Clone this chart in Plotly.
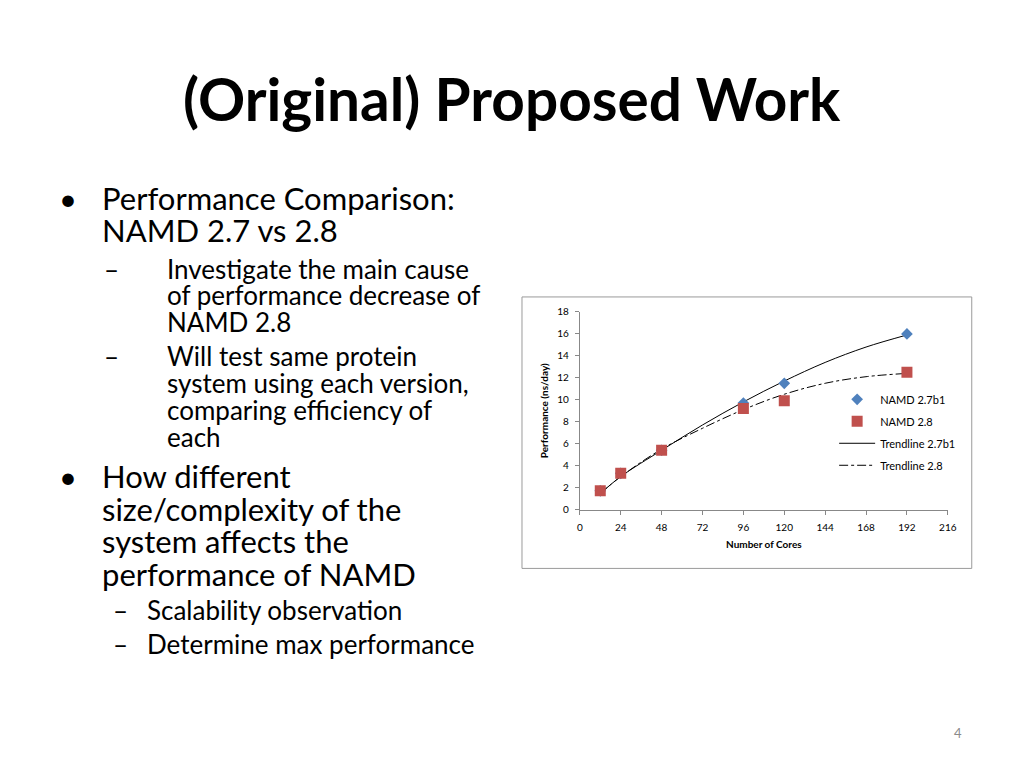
import plotly.graph_objects as go

cores = [12, 24, 48, 96, 120, 192]
namd_27 = [1.7, 3.3, 5.4, 9.7, 11.5, 16.0]
namd_28 = [1.7, 3.3, 5.4, 9.2, 9.9, 12.5]

# excel trendlines, read at regular points
trend_x = [12, 24, 48, 72, 96, 120, 144, 168, 192]
trend_27 = [1.45, 3.0, 5.4, 7.7, 9.8, 11.7, 13.4, 14.8, 15.9]
trend_28 = [1.45, 3.0, 5.5, 7.4, 9.1, 10.5, 11.5, 12.1, 12.4]

x_ticks = [0, 24, 48, 72, 96, 120, 144, 168, 192, 216]
y_ticks = [0, 2, 4, 6, 8, 10, 12, 14, 16, 18]

title = "<b>(Original) Proposed Work</b>"
font = "Lato"

W, H = 1024, 768

# the page comes out slightly shifted/shrunk in the screenshot, so map
# slide pixel positions back to figure positions
def px(x):
    return (x - 8.6) / 0.991 / W

def py(y):
    return 1 - (y - 13.5) / 0.985 / H

fig = go.Figure()
fig.add_trace(go.Scatter(x=trend_x, y=trend_27, mode="lines", name="Trendline 2.7b1",
                         legendrank=3, legendgroup="c",
                         line=dict(color="black", width=1, shape="spline")))
fig.add_trace(go.Scatter(x=trend_x, y=trend_28, mode="lines", name="Trendline 2.8",
                         legendrank=4, legendgroup="d",
                         line=dict(color="black", width=1, dash="dashdot", shape="spline")))
fig.add_trace(go.Scatter(x=cores, y=namd_27, mode="markers", name="NAMD 2.7b1",
                         legendrank=1, legendgroup="a",
                         marker=dict(symbol="diamond", size=9, color="#4F81BD")))
fig.add_trace(go.Scatter(x=cores, y=namd_28, mode="markers", name="NAMD 2.8",
                         legendrank=2, legendgroup="b",
                         marker=dict(symbol="square", size=11, color="#C0504D")))

fig.update_layout(
    width=W, height=H,
    margin=dict(l=0, r=0, t=0, b=0),
    paper_bgcolor="white", plot_bgcolor="white",
    font=dict(family=font, color="black"),
    legend=dict(x=px(834), y=py(384), xanchor="left", yanchor="top",
                font=dict(size=11, family=font), bgcolor="rgba(0,0,0,0)",
                tracegroupgap=3, itemwidth=36),
    xaxis=dict(domain=[px(579), px(948)], range=[0, 216], tickvals=x_ticks,
               showgrid=False, zeroline=False, showline=True, linecolor="#888",
               ticks="outside", ticklen=4, tickcolor="#888", ticklabelstandoff=4,
               tickfont=dict(size=10),
               title=dict(text="<b>Number of Cores</b>", font=dict(size=10), standoff=9)),
    yaxis=dict(domain=[py(509), py(311)], range=[0, 18], tickvals=y_ticks,
               showgrid=False, zeroline=False, showline=True, linecolor="#888",
               ticks="outside", ticklen=4, tickcolor="#888", ticklabelstandoff=4,
               tickfont=dict(size=10),
               title=dict(text="<b>Performance (ns/day)</b>", font=dict(size=10), standoff=6)),
)

# chart frame
fig.add_shape(type="rect", xref="paper", yref="paper",
              x0=px(521), x1=px(972), y0=py(568), y1=py(296),
              line=dict(color="#9a9a9a", width=1))

fig.add_annotation(text=title, x=px(511), y=py(97), xref="paper", yref="paper",
                   showarrow=False, xanchor="center", yanchor="middle",
                   font=dict(size=58.5, family=font))

# slide text: (marker, marker x, text x, y, size, text)
lines = [
    ("•", 54.5, 97.5, 197, 31, "Performance Comparison:"),
    ("", 54.5, 97.5, 229, 31, "NAMD 2.7 vs 2.8"),
    ("–", 99.5, 163.5, 268, 26, "Investigate the main cause"),
    ("", 99.5, 163.5, 294, 26, "of performance decrease of"),
    ("", 99.5, 163.5, 321, 26, "NAMD 2.8"),
    ("–", 99.5, 163.5, 355, 26, "Will test same protein"),
    ("", 99.5, 163.5, 382, 26, "system using each version,"),
    ("", 99.5, 163.5, 409, 26, "comparing efficiency of"),
    ("", 99.5, 163.5, 436, 26, "each"),
    ("•", 54.5, 97.5, 475, 31, "How different"),
    ("", 54.5, 97.5, 508, 31, "size/complexity of the"),
    ("", 54.5, 97.5, 541, 31, "system affects the"),
    ("", 54.5, 97.5, 574, 31, "performance of NAMD"),
    ("–", 108.5, 142.5, 610, 26, "Scalability observation"),
    ("–", 108.5, 142.5, 644, 26, "Determine max performance"),
]
for mark, mx, tx, y, size, txt in lines:
    if mark:
        fig.add_annotation(text=mark, x=px(mx), y=py(y), xref="paper", yref="paper",
                           showarrow=False, xanchor="left", yanchor="middle",
                           font=dict(size=size, family=font))
    fig.add_annotation(text=txt, x=px(tx), y=py(y), xref="paper", yref="paper",
                       showarrow=False, xanchor="left", yanchor="middle",
                       font=dict(size=size, family=font))

fig.add_annotation(text="4", x=px(958), y=py(733), xref="paper", yref="paper",
                   showarrow=False, xanchor="center", yanchor="middle",
                   font=dict(size=13, family=font, color="#8a8a8a"))

fig.write_html("out.html")
